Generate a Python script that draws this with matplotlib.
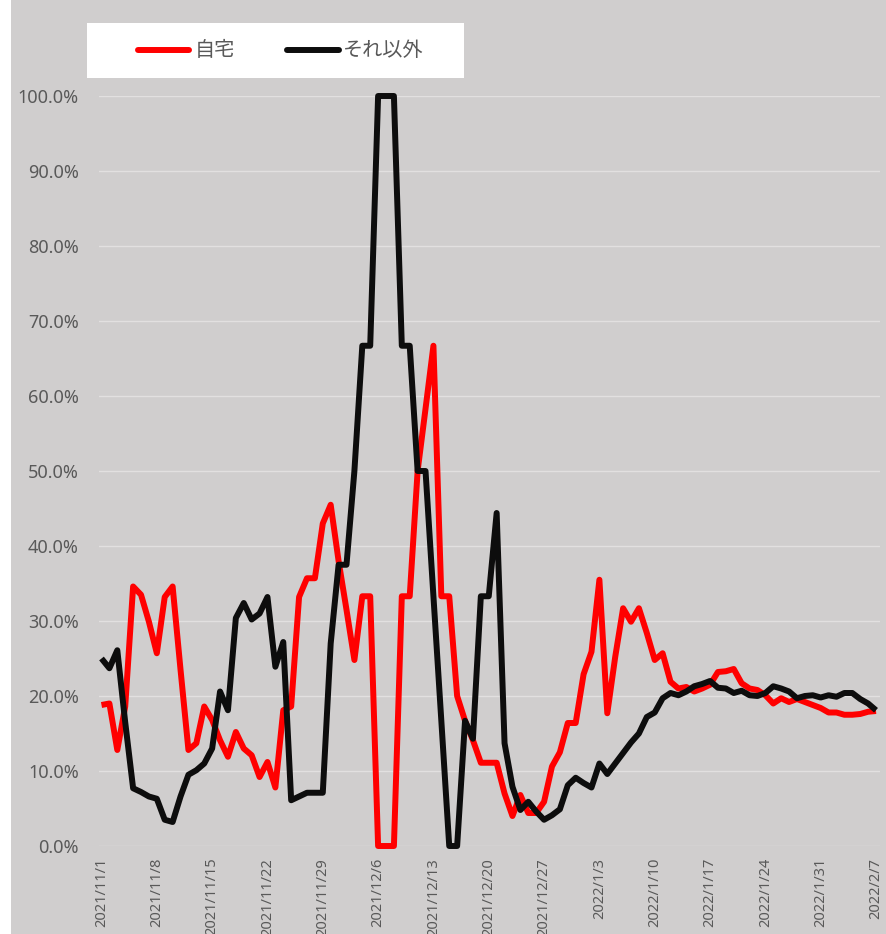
import matplotlib
matplotlib.use("Agg")
import matplotlib.pyplot as plt
from matplotlib.patches import Rectangle
from matplotlib.lines import Line2D
import numpy as np
import pandas as pd

plt.rcParams['font.family'] = ['Noto Sans', 'Noto Sans CJK JP', 'DejaVu Sans']

dates = pd.date_range('2021-11-01', '2022-02-07', freq='D')

home = [18.8, 19.0, 12.8, 18.6, 34.6, 33.5, 29.9, 25.7, 33.2, 34.6,
        23.5, 12.8, 13.7, 18.6, 16.8, 14.1, 11.9, 15.2, 13.0, 12.1,
        9.2, 11.2, 7.8, 18.1, 18.6, 33.2, 35.7, 35.7, 43.0, 45.5,
        38.0, 31.5, 24.8, 33.3, 33.3, 0.0, 0.0, 0.0, 33.3, 33.3,
        50.0, 58.3, 66.7, 33.3, 33.3, 20.0, 16.7, 14.1, 11.1, 11.1,
        11.1, 7.0, 4.0, 6.8, 4.4, 4.4, 5.9, 10.6, 12.5, 16.4,
        16.4, 22.9, 25.9, 35.5, 17.7, 25.2, 31.7, 29.9, 31.7, 28.4,
        24.8, 25.7, 21.9, 21.0, 21.2, 20.6, 21.0, 21.5, 23.2, 23.3,
        23.6, 21.7, 21.0, 20.8, 20.1, 19.0, 19.7, 19.2, 19.6, 19.2,
        18.8, 18.4, 17.8, 17.8, 17.5, 17.5, 17.6, 17.9, 18.0]

other = [25.0, 23.7, 26.1, 16.5, 7.7, 7.2, 6.6, 6.3, 3.5, 3.2,
         6.6, 9.5, 10.1, 11.0, 13.0, 20.6, 18.1, 30.4, 32.4, 30.2,
         31.0, 33.2, 23.9, 27.2, 6.1, 6.6, 7.1, 7.1, 7.1, 27.0,
         37.5, 37.5, 50.0, 66.7, 66.7, 100.0, 100.0, 100.0, 66.7, 66.7,
         50.0, 50.0, 33.3, 16.7, 0.0, 0.0, 16.7, 14.3, 33.3, 33.3,
         44.4, 13.7, 7.9, 4.8, 5.9, 4.6, 3.5, 4.1, 4.9, 8.1,
         9.1, 8.4, 7.8, 11.0, 9.6, 11.0, 12.4, 13.8, 15.0, 17.2,
         17.8, 19.7, 20.4, 20.1, 20.6, 21.3, 21.6, 22.0, 21.1, 21.0,
         20.4, 20.7, 20.1, 20.0, 20.4, 21.3, 21.0, 20.6, 19.7, 20.0,
         20.1, 19.8, 20.1, 19.9, 20.4, 20.4, 19.6, 19.0, 18.1]

xtick_labels = ['2021/11/1', '2021/11/8', '2021/11/15', '2021/11/22', '2021/11/29',
                '2021/12/6', '2021/12/13', '2021/12/20', '2021/12/27', '2022/1/3',
                '2022/1/10', '2022/1/17', '2022/1/24', '2022/1/31', '2022/2/7']
ytick_values = [0, 10, 20, 30, 40, 50, 60, 70, 80, 90, 100]
ytick_labels = ['0.0%', '10.0%', '20.0%', '30.0%', '40.0%', '50.0%',
                '60.0%', '70.0%', '80.0%', '90.0%', '100.0%']
series_names = ['自宅', 'それ以外']

W, H = 887, 934
BG = '#d0cece'
TXT = '#595959'
RED = '#ff0000'
BLK = '#0d0d0d'

fig = plt.figure(figsize=(W / 100, H / 100), dpi=100)
fig.patch.set_facecolor(BG)
fig.add_artist(Rectangle((0, 0), 11 / W, 1, transform=fig.transFigure,
                         facecolor='white', edgecolor='none'))

ax = fig.add_axes([99 / W, 88 / H, (880 - 99) / W, 750 / H])
ax.set_facecolor(BG)

x = np.arange(len(dates))
lw = 4.3
ax.plot(x, home, color=RED, lw=lw, solid_joinstyle='round', solid_capstyle='butt',
        zorder=3, clip_on=False)
ax.plot(x, other, color=BLK, lw=lw, solid_joinstyle='round', solid_capstyle='butt',
        zorder=4, clip_on=False)

ppd = (876 - 101.5) / 98.0
ax.set_xlim(-(101.5 - 99) / ppd, (880 - 101.5) / ppd)
ax.set_ylim(0, 100)

ax.set_yticks(ytick_values)
ax.set_yticklabels(ytick_labels)
ax.set_xticks(x[::7])
ax.set_xticklabels(xtick_labels, rotation=90, va='top', ha='center')
ax.tick_params(axis='y', length=0, pad=14.5, labelsize=13, labelcolor=TXT)
ax.tick_params(axis='x', length=0, pad=8.5, labelsize=10.5, labelcolor=TXT)
ax.grid(axis='y', color='#e2e0e0', lw=1.0, zorder=1)
ax.grid(axis='x', visible=False)
ax.set_axisbelow(True)
for s in ax.spines.values():
    s.set_visible(False)

# legend box
fig.add_artist(Rectangle((87 / W, (H - 78) / H), (464 - 87) / W, 55 / H,
                         transform=fig.transFigure, facecolor='white', edgecolor='none'))
ly = (H - 50) / H
fig.add_artist(Line2D([138 / W, 189 / W], [ly, ly], transform=fig.transFigure,
                      color=RED, lw=lw, solid_capstyle='round'))
fig.add_artist(Line2D([287 / W, 339 / W], [ly, ly], transform=fig.transFigure,
                      color=BLK, lw=lw, solid_capstyle='round'))
fig.text(195 / W, ly, series_names[0], color=TXT, fontsize=14.5,
         family=['Noto Sans CJK JP', 'DejaVu Sans'], va='center', ha='left')
fig.text(343 / W, ly, series_names[1], color=TXT, fontsize=14.5,
         family=['Noto Sans CJK JP', 'DejaVu Sans'], va='center', ha='left')

fig.savefig('out.png', dpi=100, facecolor=fig.get_facecolor())
